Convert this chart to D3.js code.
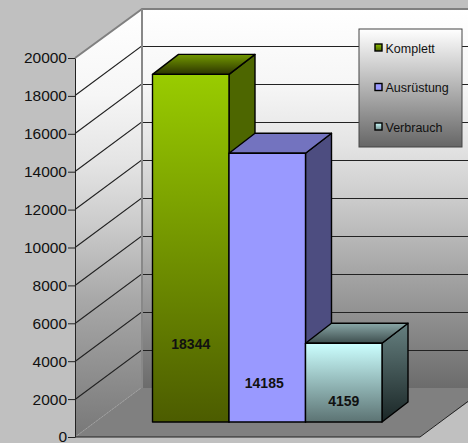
<!DOCTYPE html>
<html>
<head>
<meta charset="utf-8">
<script src="https://cdn.jsdelivr.net/npm/d3@7/dist/d3.min.js"></script>
<style>html,body{margin:0;padding:0;background:#c0c0c0;overflow:hidden}svg{display:block}</style>
</head>
<body>
<svg id="c" width="468" height="443"></svg>
<script>
const categories = ["Komplett", "Ausrüstung", "Verbrauch"];
const values = [18344, 14185, 4159];
const tickValues = [0,2000,4000,6000,8000,10000,12000,14000,16000,18000,20000];

const svg = d3.select("#c");
const W = 468, H = 443;
const y = d3.scaleLinear().domain([0,20000]).range([437,58]);
const wallDx = 66, wallDy = -49;   // depth of the chart box
const barDx = 26, barDy = -20;     // depth of a bar
const barLift = 15;                // bar base above front edge
const x = d3.scaleBand().domain(categories).range([152.5,382]).padding(0);
const floorRight = 420;
const labelLevels = [4115, 2058, 1108]; // label heights above bar base, in value units
const labelShift = [0, -3, 0];

const palette = [
 {front:["#99cc00","#4c5c00"], side:["#4d6600","#4d6600"], top:["#739900","#2b3300"], legend:["#8fbf00","#4c6600"]},
 {front:["#9999ff","#9999ff"], side:["#4d4d80","#4d4d80"], top:["#7373bf","#7373bf"], legend:["#9999ff","#9999ff"]},
 {front:["#ccffff","#5c7373"], side:["#668080","#1a2626"], top:["#8aa8a8","#3d4d4d"], legend:["#ccffff","#6f8c8c"]}
];

const defs = svg.append("defs");
function grad(id, c0, c1){
  const g = defs.append("linearGradient").attr("id",id).attr("x1",0).attr("y1",0).attr("x2",0).attr("y2",1);
  g.append("stop").attr("offset",0).attr("stop-color",c0);
  g.append("stop").attr("offset",1).attr("stop-color",c1);
  return `url(#${id})`;
}
function grad4(id, stops){
  const g = defs.append("linearGradient").attr("id",id).attr("x1",0).attr("y1",0).attr("x2",0).attr("y2",1);
  stops.forEach(s=>g.append("stop").attr("offset",s[0]).attr("stop-color",s[1]));
  return `url(#${id})`;
}
const wallStops = [[0,"#ffffff"],[0.2,"#f6f6f6"],[0.36,"#e4e4e4"],[0.5,"#cccccc"],[0.68,"#a8a8a8"],[1,"#6c6c6c"]];
const wallFill = grad4("wall",wallStops);
const sideFill = grad4("wallL",wallStops.slice(0,5).concat([[1,"#787878"]]));
const legFill = grad("leg","#ffffff","#666666");

svg.append("rect").attr("width",W).attr("height",H).attr("fill","#c0c0c0");

const x0 = 75, yT = y(20000), yB = y(0);
const bx = x0+wallDx;
const pts = a => a.map(p=>p.join(",")).join(" ");
const snap = v => Math.floor(v)+0.5;
// floor
svg.append("polygon").attr("points",pts([[x0,yB],[bx,yB+wallDy],[W+20,yB+wallDy],[floorRight+20,yB+wallDy+34],[floorRight,yB]])).attr("fill","#808080");
svg.append("line").attr("x1",floorRight).attr("y1",yB).attr("x2",floorRight+66).attr("y2",yB+wallDy).attr("stroke","#222").attr("stroke-width",1);
// back wall
svg.append("rect").attr("x",bx).attr("y",yT+wallDy).attr("width",W-bx).attr("height",yB-yT).attr("fill",wallFill);
// left wall
svg.append("polygon").attr("points",pts([[x0,yT],[bx,yT+wallDy],[bx,yB+wallDy],[x0,yB]])).attr("fill",sideFill);

// grid
tickValues.slice(1,-1).forEach(v=>{
  svg.append("path").attr("fill","none").attr("stroke","#222").attr("stroke-width",1.1)
    .attr("d",d3.line()([[x0,snap(y(v))],[bx,snap(y(v)+wallDy)],[W,snap(y(v)+wallDy)]]));
});
// box border
svg.append("path").attr("fill","none").attr("stroke","#808080").attr("stroke-width",2)
  .attr("d",d3.line()([[x0,yT],[bx+1,yT+wallDy],[W,yT+wallDy]]));
svg.append("line").attr("x1",bx+1).attr("x2",bx+1).attr("y1",yT+wallDy).attr("y2",yB+wallDy).attr("stroke","#888").attr("stroke-width",2);
svg.append("line").attr("x1",x0).attr("y1",yB).attr("x2",bx).attr("y2",yB+wallDy).attr("stroke","#a8a8a8").attr("stroke-width",1).attr("stroke-dasharray","1 1");

// axis
const axis = d3.axisLeft(y).tickValues(tickValues).tickSize(7).tickSizeOuter(0).tickPadding(1).tickFormat(d3.format("d"));
const ax = svg.append("g").attr("transform",`translate(${x0},0)`).call(axis);
ax.select(".domain").attr("stroke","#222").attr("stroke-width",1);
ax.selectAll(".tick line").attr("stroke","#222");
ax.selectAll("text").attr("font-family","Liberation Sans").attr("font-size",15.5).attr("fill","#111");
svg.append("line").attr("x1",x0).attr("x2",floorRight).attr("y1",yB).attr("y2",yB).attr("stroke","#222").attr("stroke-width",1);

// bars
const base = y(0)-barLift;
const barH = v => y(0)-y(v);
categories.forEach((c,i)=>{
  const p = palette[i];
  const xa = x(c), xb = xa+x.bandwidth(), top = base-barH(values[i]);
  const g = svg.append("g").attr("stroke","#000").attr("stroke-width",1.4).attr("stroke-linejoin","round");
  g.append("polygon").attr("points",pts([[xb,top],[xb+barDx,top+barDy],[xb+barDx,base+barDy],[xb,base]])).attr("fill",grad("s"+i,...p.side));
  g.append("polygon").attr("points",pts([[xa,top],[xa+barDx,top+barDy],[xb+barDx,top+barDy],[xb,top]])).attr("fill",grad("t"+i,...p.top));
  g.append("rect").attr("x",xa).attr("y",top).attr("width",xb-xa).attr("height",base-top).attr("fill",grad("f"+i,...p.front));
});
categories.forEach((c,i)=>{
  svg.append("text").attr("x",x(c)+x.bandwidth()/2+labelShift[i]).attr("y",base-barH(labelLevels[i])+5)
    .attr("text-anchor","middle").attr("font-family","Liberation Sans").attr("font-weight","bold").attr("font-size",14).attr("fill","#111").text(values[i]);
});

// legend
const lg = svg.append("g");
lg.append("rect").attr("x",359).attr("y",29).attr("width",103).attr("height",118).attr("fill",legFill).attr("stroke","#444").attr("stroke-width",1);
const ly = d3.scalePoint().domain(categories).range([48,127]);
categories.forEach((c,i)=>{
  const p = palette[i];
  lg.append("rect").attr("x",375).attr("y",ly(c)-4).attr("width",7).attr("height",7).attr("fill",grad("l"+i,...p.legend)).attr("stroke","#000").attr("stroke-width",1.4);
  lg.append("text").attr("x",385.5).attr("y",ly(c)+4.5).attr("font-family","Liberation Sans").attr("font-size",12.5).attr("fill","#111").text(c);
});
</script>
</body>
</html>
